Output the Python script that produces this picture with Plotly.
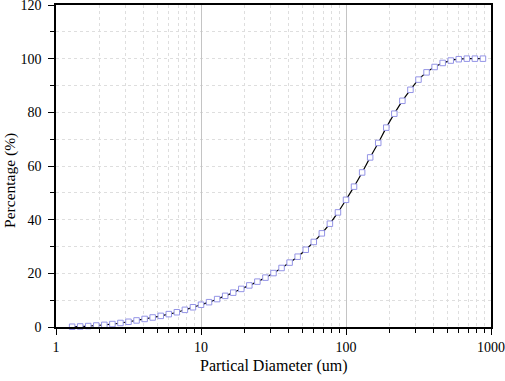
import plotly.graph_objects as go

diameter_um = [1.292, 1.468, 1.668, 1.896, 2.154, 2.448, 2.783, 3.162, 3.594, 4.084,
               4.642, 5.275, 5.995, 6.813, 7.743, 8.799, 10.0, 11.36, 12.92, 14.68,
               16.68, 18.96, 21.54, 24.48, 27.83, 31.62, 35.94, 40.84, 46.42, 52.75,
               59.95, 68.13, 77.43, 87.99, 100.0, 113.6, 129.2, 146.8, 166.8, 189.6,
               215.4, 244.8, 278.3, 316.2, 359.4, 408.4, 464.2, 527.5, 599.5, 681.3,
               774.3, 879.9]
percentage = [0.1, 0.2, 0.35, 0.55, 0.8, 1.1, 1.5, 1.95, 2.45, 3.0,
              3.55, 4.15, 4.8, 5.5, 6.4, 7.35, 8.3, 9.25, 10.4, 11.6,
              12.8, 14.2, 15.5, 16.9, 18.4, 20.1, 22.0, 24.0, 26.2, 28.8,
              31.7, 34.9, 38.5, 42.7, 47.4, 52.3, 57.6, 63.2, 68.6, 74.3,
              79.5, 84.3, 88.4, 92.2, 94.9, 96.9, 98.4, 99.3, 99.8, 100.0,
              100.0, 100.0]

x_ticks = [1, 10, 100, 1000]
x_labels = ["1", "10", "100", "1000"]
y_ticks = [0, 20, 40, 60, 80, 100, 120]
x_title = "Partical Diameter (um)"
y_title = "Percentage (%)"

FONT = "Liberation Serif"

fig = go.Figure()
fig.add_trace(go.Scatter(
    x=diameter_um, y=percentage, mode="lines+markers",
    line=dict(color="black", width=1.2, shape="spline"),
    marker=dict(symbol="square", size=5.5, color="white",
                line=dict(width=1, color="#9494e6")),
    showlegend=False,
    cliponaxis=False,
))

fig.update_layout(
    width=505, height=381,
    margin=dict(l=56, r=14, t=5, b=54, autoexpand=False),
    paper_bgcolor="white", plot_bgcolor="white",
    font=dict(family=FONT, size=14, color="black"),
    annotations=[
        dict(text=x_title, xref="paper", yref="paper", x=0.5, y=-0.121,
             xanchor="center", yanchor="middle", showarrow=False,
             font=dict(family=FONT, size=16)),
        dict(text=y_title, xref="paper", yref="paper", x=-0.106, y=0.4565,
             xanchor="center", yanchor="middle", showarrow=False, textangle=-90,
             font=dict(family=FONT, size=15.5)),
    ],
)

fig.update_xaxes(
    type="log", range=[0, 3],
    tickvals=x_ticks, ticktext=x_labels,
    ticks="outside", ticklen=6, tickwidth=1, tickcolor="black",
    showline=True, linecolor="black", linewidth=1.5, mirror=True,
    showgrid=True, gridcolor="#c4c4c4", gridwidth=1,
    minor=dict(dtick="D1", ticks="outside", ticklen=4, tickcolor="black",
               showgrid=True, gridcolor="#dedede", griddash="dot", gridwidth=1),
    tickfont=dict(family=FONT, size=14),
    ticklabeloverflow="allow",
    zeroline=False,
)

fig.update_yaxes(
    range=[0, 120], tickvals=y_ticks,
    ticks="outside", ticklen=6, tickwidth=1, tickcolor="black",
    showline=True, linecolor="black", linewidth=1.5, mirror=True,
    showgrid=False,
    minor=dict(dtick=10, ticks="outside", ticklen=4, tickcolor="black",
               showgrid=True, gridcolor="#dedede", griddash="dot", gridwidth=1),
    tickfont=dict(family=FONT, size=14),
    ticklabeloverflow="allow",
    ticklabelstandoff=4,
    zeroline=False,
)

fig.write_html("out.html", config={"displayModeBar": False},
               post_script="document.body.style.margin='0px';")
